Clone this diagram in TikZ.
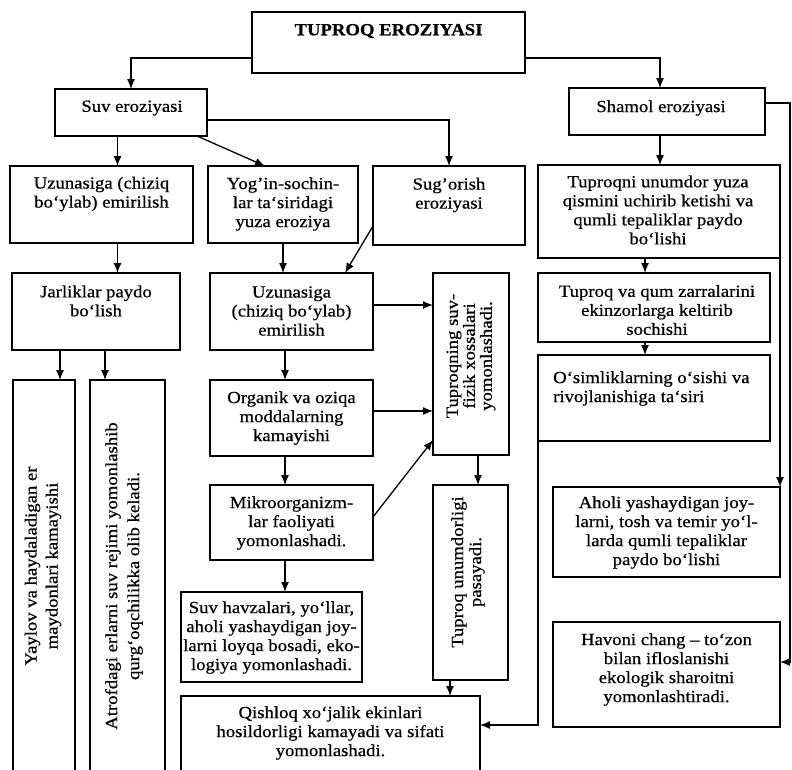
\documentclass[tikz,border=0pt]{standalone}
\usepackage{fontspec}
\setmainfont{Liberation Serif}[FakeStretch=1.1,FakeBold=0.6]
\usetikzlibrary{arrows.meta}
\begin{document}
\begin{tikzpicture}[x=1pt,y=-1pt,
  box/.style={draw, line width=1.4pt, rectangle, inner sep=0pt, outer sep=0pt},
  txt/.style={align=center, inner sep=0pt, font=\fontsize{17}{19}\selectfont},
  arr/.style={line width=1.3pt, -{Latex[length=10pt,width=8pt]}},
  ]
\fill[white] (0,0) rectangle (792,769);
\useasboundingbox (0,0) rectangle (792,769);

% boxes
\node[box, minimum width=273pt, minimum height=61pt] (title) at (388.5,42.5) {};
\node[box, minimum width=152pt, minimum height=47pt] (suv) at (131,112.5) {};
\node[box, minimum width=196pt, minimum height=47pt] (shamol) at (667,111.5) {};
\node[box, minimum width=183pt, minimum height=77pt] (uz1) at (101.5,204.5) {};
\node[box, minimum width=150pt, minimum height=77pt] (yog) at (283,204.5) {};
\node[box, minimum width=152pt, minimum height=79pt] (sug) at (449,205.5) {};
\node[box, minimum width=242pt, minimum height=93pt] (tqni) at (659,211.5) {};
\node[box, minimum width=168pt, minimum height=77pt] (jar) at (96,311.5) {};
\node[box, minimum width=163pt, minimum height=77pt] (uz2) at (291.5,311.5) {};
\node[box, minimum width=76pt, minimum height=182pt] (tsf) at (471,364) {};
\node[box, minimum width=232pt, minimum height=69pt] (tq) at (654,307.5) {};
\node[box, minimum width=232pt, minimum height=86pt] (osim) at (654,398) {};
\node[box, minimum width=62pt, minimum height=410pt] (yay) at (44,585) {};
\node[box, minimum width=75pt, minimum height=410pt] (atr) at (127.5,585) {};
\node[box, minimum width=163pt, minimum height=76pt] (org) at (291.5,418) {};
\node[box, minimum width=163pt, minimum height=75pt] (mik) at (291.5,522.5) {};
\node[box, minimum width=181pt, minimum height=90pt] (shv) at (271.5,637) {};
\node[box, minimum width=75pt, minimum height=195pt] (tun) at (470.5,582.5) {};
\node[box, minimum width=299pt, minimum height=104pt] (qish) at (330.5,748) {};
\node[box, minimum width=227pt, minimum height=90pt] (aholi) at (666.5,532) {};
\node[box, minimum width=227pt, minimum height=105pt] (havo) at (666.5,674.5) {};

% texts
\node[txt, font=\fontsize{17}{19}\selectfont\bfseries] (title-t) at (388.5,31) {TUPROQ EROZIYASI};
\node[txt] (suv-t) at (132,108) {Suv eroziyasi};
\node[txt] (shamol-t) at (661,108) {Shamol eroziyasi};
\node[txt] (uz1-t) at (101.5,194) {Uzunasiga (chiziq\\bo`ylab) emirilish};
\node[txt] (yog-t) at (283,204) {Yog'in-sochin-\\lar ta`siridagi\\yuza eroziya};
\node[txt] (sug-t) at (449,195) {Sug'orish\\eroziyasi};
\node[txt] (tqni-t) at (658,210) {Tuproqni unumdor yuza\\qismini uchirib ketishi va\\qumli tepaliklar paydo\\bo`lishi};
\node[txt] (jar-t) at (96,301) {Jarliklar paydo\\bo`lish};
\node[txt] (uz2-t) at (291.5,311) {Uzunasiga\\(chiziq bo`ylab)\\emirilish};
\node[txt, rotate=90, font=\fontsize{17}{17}\selectfont] (tsf-t) at (471,356) {Tuproqning suv-\\fizik xossalari\\yomonlashadi.};
\node[txt] (tq-t) at (657,310) {Tuproq va qum zarralarini\\ekinzorlarga keltirib\\sochishi};
\node[txt, align=left, anchor=west] (osim-t) at (553,388.5) {O`simliklarning o`sishi va\\rivojlanishiga ta`siri};
\node[txt, rotate=90, font=\fontsize{17}{21}\selectfont] (yay-t) at (43,566) {Yaylov va haydaladigan er\\maydonlari kamayishi};
\node[txt, rotate=90, font=\fontsize{17}{22}\selectfont] (atr-t) at (124,576) {Atrofdagi erlarni suv rejimi yomonlashib\\qurg`oqchilikka olib keladi.};
\node[txt] (org-t) at (291.5,418) {Organik va oziqa\\moddalarning\\kamayishi};
\node[txt] (mik-t) at (291.5,523) {Mikroorganizm-\\lar faoliyati\\yomonlashadi.};
\node[txt] (shv-t) at (271.5,637.5) {Suv havzalari, yo`llar,\\aholi yashaydigan joy-\\larni loyqa bosadi, eko-\\logiya yomonlashadi.};
\node[txt, rotate=90, font=\fontsize{17}{18}\selectfont] (tun-t) at (468,572) {Tuproq unumdorligi\\pasayadi.};
\node[txt] (qish-t) at (330.5,733) {Qishloq xo`jalik ekinlari\\hosildorligi kamayadi va sifati\\yomonlashadi.};
\node[txt] (aholi-t) at (666.5,532.5) {Aholi yashaydigan joy-\\larni, tosh va temir yo`l-\\larda qumli tepaliklar\\paydo bo`lishi};
\node[txt] (havo-t) at (666.5,669.5) {Havoni chang – to`zon\\bilan ifloslanishi\\ekologik sharoitni\\yomonlashtiradi.};

% helper coordinates
\coordinate (hT) at (0,58);
\coordinate (hB) at (0,120);
\coordinate (hC) at (0,226);
\coordinate (hD) at (0,305);
\coordinate (hE) at (0,411);
\coordinate (hF) at (0,517);
\coordinate (hG) at (0,440);
\coordinate (hH) at (0,725);
\coordinate (hI) at (0,662);
\coordinate (hJ) at (0,103);
\coordinate (vA) at (117.5,0);
\coordinate (vB) at (345,0);
\coordinate (vC) at (285,0);
\coordinate (vD) at (60,0);
\coordinate (vE) at (105,0);
\coordinate (vF) at (478,0);
\coordinate (vG) at (450,0);
\coordinate (vH) at (645,0);
\coordinate (vI) at (790,0);
\coordinate (vSh) at (660,0);
\coordinate (dA) at (197,0);
\coordinate (dB) at (265,0);

% connectors
\draw[arr] (title.west |- hT) -| (suv.north);
\draw[arr] (title.east |- hT) -| (shamol.north -| vSh);
\draw[arr] (shamol.south -| vSh) -- (tqni.north -| vSh);
\draw[arr] (suv.south -| vA) -- (uz1.north -| vA);
\draw[arr] (suv.south -| dA) -- (yog.north -| dB);
\draw[arr] (suv.east |- hB) -| (sug.north);
\draw[arr] (uz1.south -| vA) -- (jar.north -| vA);
\draw[arr] (yog.south) -- (yog.south |- uz2.north);
\draw[arr] (sug.west |- hC) -- (uz2.north -| vB);
\draw[arr] (uz2.east |- hD) -- (tsf.west |- hD);
\draw[arr] (org.east |- hE) -- (tsf.west |- hE);
\draw[arr] (mik.east |- hF) -- (tsf.west |- hG);
\draw[arr] (uz2.south -| vC) -- (org.north -| vC);
\draw[arr] (org.south -| vC) -- (mik.north -| vC);
\draw[arr] (mik.south -| vC) -- (shv.north -| vC);
\draw[arr] (jar.south -| vD) -- (yay.north -| vD);
\draw[arr] (jar.south -| vE) -- (atr.north -| vE);
\draw[arr] (tsf.south -| vF) -- (tun.north -| vF);
\draw[arr] (tun.south -| vG) -- (qish.north -| vG);
\draw[arr] (tqni.south -| vH) -- (tq.north -| vH);
\draw[arr] (tq.south -| vH) -- (osim.north -| vH);
\draw[arr] (osim.south west) |- (qish.east |- hH);
\draw[arr] (tqni.south east) -- (aholi.north -| tqni.south east);
\draw[arr] (shamol.east |- hJ) -| (vI |- hI) -- (havo.east |- hI);
\end{tikzpicture}
\end{document}
